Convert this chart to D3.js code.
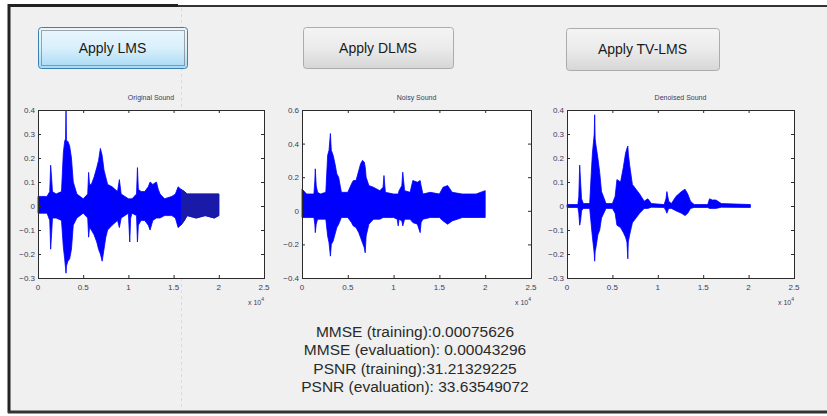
<!DOCTYPE html>
<meta charset="utf-8">
<script src="https://d3js.org/d3.v7.min.js"></script>
<style>
  body { margin: 0; background: #fff; }
  svg { display: block; font-family: "Liberation Sans", Arial, sans-serif; }
</style>
<body>
<div id="gui"></div>
<script>
// ---- data (x in samples, y amplitude envelope) ----
const origX     = [0, 1000, 1300, 1400, 1500, 1600, 2000, 2600, 2800, 2950, 3050, 3100, 3150, 3300, 3500, 3700, 3900, 4300, 5000, 5500, 5600, 5700, 5900, 6200, 6500, 6700, 6900, 7100, 7300, 7500, 7700, 8200, 8800, 9000, 9200, 10000, 10150, 10250, 10400, 10900, 11000, 11100, 11400, 11800, 12200, 12400, 12700, 13100, 13300, 13500, 14000, 14800, 15200, 15500, 15800, 16200, 16500, 17500, 18500, 19500, 20000];
const origUpper = [0.04, 0.04, 0.06, 0.17, 0.12, 0.06, 0.05, 0.06, 0.22, 0.27, 0.28, 0.40, 0.27, 0.27, 0.25, 0.20, 0.10, 0.05, 0.03, 0.05, 0.14, 0.09, 0.09, 0.12, 0.16, 0.19, 0.24, 0.21, 0.15, 0.12, 0.09, 0.08, 0.06, 0.11, 0.05, 0.03, 0.03, 0.03, 0.03, 0.05, 0.16, 0.07, 0.06, 0.06, 0.08, 0.10, 0.09, 0.10, 0.07, 0.05, 0.03, 0.04, 0.05, 0.08, 0.07, 0.06, 0.05, 0.05, 0.05, 0.05, 0.05];
const origLower = [-0.03, -0.03, -0.06, -0.18, -0.12, -0.05, -0.05, -0.06, -0.17, -0.22, -0.26, -0.28, -0.25, -0.23, -0.22, -0.18, -0.08, -0.05, -0.03, -0.05, -0.13, -0.09, -0.10, -0.12, -0.15, -0.18, -0.20, -0.23, -0.18, -0.13, -0.10, -0.08, -0.06, -0.09, -0.05, -0.03, -0.15, -0.05, -0.03, -0.04, -0.15, -0.08, -0.06, -0.06, -0.08, -0.10, -0.06, -0.05, -0.05, -0.05, -0.04, -0.04, -0.05, -0.09, -0.08, -0.06, -0.04, -0.05, -0.04, -0.05, -0.04];

const noisyX     = [0, 500, 1300, 1400, 1450, 1550, 1700, 2000, 2600, 2800, 2950, 3100, 3200, 3400, 3600, 3800, 4000, 4300, 5000, 5400, 5600, 5900, 6200, 6400, 6600, 6800, 6900, 7000, 7300, 7800, 8500, 8850, 8950, 9100, 10000, 10400, 10500, 10600, 10900, 11000, 11200, 11800, 12100, 12600, 12900, 13000, 13200, 14000, 15000, 15400, 15900, 16400, 17500, 19000, 20000];
const noisyUpper = [0.13, 0.10, 0.10, 0.18, 0.25, 0.15, 0.11, 0.10, 0.11, 0.33, 0.36, 0.46, 0.36, 0.33, 0.28, 0.22, 0.20, 0.11, 0.11, 0.16, 0.18, 0.18, 0.24, 0.28, 0.30, 0.29, 0.26, 0.20, 0.15, 0.14, 0.12, 0.14, 0.21, 0.11, 0.10, 0.10, 0.10, 0.12, 0.15, 0.23, 0.12, 0.11, 0.18, 0.17, 0.18, 0.15, 0.10, 0.11, 0.10, 0.14, 0.15, 0.11, 0.10, 0.10, 0.12];
const noisyLower = [-0.04, -0.04, -0.04, -0.08, -0.13, -0.08, -0.05, -0.05, -0.05, -0.15, -0.19, -0.27, -0.20, -0.18, -0.14, -0.10, -0.08, -0.04, -0.04, -0.07, -0.09, -0.10, -0.13, -0.16, -0.19, -0.22, -0.25, -0.15, -0.08, -0.05, -0.05, -0.04, -0.04, -0.04, -0.04, -0.05, -0.09, -0.05, -0.06, -0.09, -0.05, -0.05, -0.07, -0.08, -0.13, -0.07, -0.05, -0.04, -0.04, -0.06, -0.08, -0.06, -0.04, -0.04, -0.04];

const denX     = [0, 1200, 1300, 1400, 1500, 1600, 1800, 2500, 2650, 2800, 2950, 3000, 3050, 3100, 3200, 3400, 3600, 3800, 4300, 5000, 5300, 5500, 5900, 6200, 6450, 6600, 6700, 6750, 6900, 7200, 7600, 8000, 8500, 8900, 9300, 10700, 10900, 11000, 11200, 11500, 12000, 12600, 13000, 13300, 13600, 14000, 15500, 15700, 16000, 16400, 17000, 20200];
const denUpper = [0.006, 0.006, 0.04, 0.17, 0.10, 0.03, 0.01, 0.01, 0.12, 0.22, 0.28, 0.30, 0.38, 0.28, 0.25, 0.20, 0.14, 0.06, 0.01, 0.01, 0.04, 0.11, 0.10, 0.16, 0.22, 0.24, 0.25, 0.22, 0.17, 0.09, 0.07, 0.05, 0.02, 0.03, 0.01, 0.006, 0.03, 0.06, 0.02, 0.01, 0.04, 0.06, 0.07, 0.05, 0.02, 0.006, 0.006, 0.03, 0.025, 0.025, 0.01, 0.006];
const denLower = [-0.006, -0.006, -0.03, -0.08, -0.06, -0.02, -0.01, -0.01, -0.07, -0.13, -0.18, -0.20, -0.23, -0.19, -0.17, -0.12, -0.10, -0.05, -0.01, -0.01, -0.03, -0.08, -0.09, -0.11, -0.13, -0.15, -0.22, -0.15, -0.12, -0.07, -0.05, -0.03, -0.01, -0.01, -0.005, -0.006, -0.02, -0.03, -0.01, -0.01, -0.02, -0.03, -0.04, -0.03, -0.01, -0.006, -0.006, -0.01, -0.01, -0.01, -0.005, -0.006];

const titles = ["Original Sound", "Noisy Sound", "Denoised Sound"];
const xTicks = [0, 0.5, 1, 1.5, 2, 2.5];
const yTicks1 = [-0.3, -0.2, -0.1, 0, 0.1, 0.2, 0.3, 0.4];
const yTicks2 = [-0.4, -0.2, 0, 0.2, 0.4, 0.6];
const buttonLabels = ["Apply LMS", "Apply DLMS", "Apply TV-LMS"];
const resultLines = [
  "MMSE (training):0.00075626",
  "MMSE (evaluation): 0.00043296",
  "PSNR (training):31.21329225",
  "PSNR (evaluation): 33.63549072"
];

const width = 827, height = 416;
const svg = d3.select("#gui").append("svg")
  .attr("width", width).attr("height", height);

const defs = svg.append("defs");
const blueGrad = defs.append("linearGradient").attr("id", "blueBtn")
  .attr("x1", 0).attr("y1", 0).attr("x2", 0).attr("y2", 1);
blueGrad.append("stop").attr("offset", "0%").attr("stop-color", "#eaf6fd");
blueGrad.append("stop").attr("offset", "50%").attr("stop-color", "#d9f0fc");
blueGrad.append("stop").attr("offset", "100%").attr("stop-color", "#a7d9f5");
const grayGrad = defs.append("linearGradient").attr("id", "grayBtn")
  .attr("x1", 0).attr("y1", 0).attr("x2", 0).attr("y2", 1);
grayGrad.append("stop").attr("offset", "0%").attr("stop-color", "#f4f4f4");
grayGrad.append("stop").attr("offset", "50%").attr("stop-color", "#ebebeb");
grayGrad.append("stop").attr("offset", "100%").attr("stop-color", "#d6d6d6");

// window background and frame
svg.append("rect").attr("x", 8).attr("y", 5).attr("width", width - 8).attr("height", 406)
  .attr("fill", "#f0f0f0");
svg.append("line").attr("x1", 8).attr("x2", 178).attr("y1", 5.5).attr("y2", 5.5)
  .attr("stroke", "#222").attr("stroke-width", 3);
svg.append("line").attr("x1", 178).attr("x2", width).attr("y1", 6).attr("y2", 6)
  .attr("stroke", "#333").attr("stroke-width", 2);
svg.append("line").attr("x1", 9).attr("x2", 9).attr("y1", 4).attr("y2", 413)
  .attr("stroke", "#222").attr("stroke-width", 3);
svg.append("line").attr("x1", 8).attr("x2", width).attr("y1", 412).attr("y2", 412)
  .attr("stroke", "#333").attr("stroke-width", 3);

// faint dashed seam of the screenshot
svg.append("line").attr("x1", 181.5).attr("x2", 181.5).attr("y1", 8).attr("y2", 410)
  .attr("stroke", "#dadada").attr("stroke-dasharray", "3,3");

// buttons
const buttons = [
  {x: 38, y: 27, w: 149, h: 41, fill: "url(#blueBtn)", stroke: "#3c7fb1"},
  {x: 303, y: 27, w: 150, h: 41, fill: "url(#grayBtn)", stroke: "#acacac"},
  {x: 566, y: 28, w: 153, h: 42, fill: "url(#grayBtn)", stroke: "#acacac"}
];
buttons.forEach((b, i) => {
  svg.append("rect").attr("x", b.x + 0.5).attr("y", b.y + 0.5)
    .attr("width", b.w).attr("height", b.h).attr("rx", 3)
    .attr("fill", b.fill).attr("stroke", b.stroke);
  if (i === 0) {
    svg.append("rect").attr("x", b.x + 3.5).attr("y", b.y + 3.5)
      .attr("width", b.w - 6).attr("height", b.h - 6)
      .attr("fill", "none").attr("stroke", "#555").attr("stroke-dasharray", "1,1");
  }
  svg.append("text").attr("x", b.x + b.w / 2).attr("y", b.y + b.h / 2 + 5)
    .attr("text-anchor", "middle").attr("font-size", 14).attr("fill", "#1a1a1a")
    .text(buttonLabels[i]);
});

// plots
const plots = [
  {x0: 38, x1: 264, dom: [-0.3, 0.4], ticks: yTicks1, xs: origX, up: origUpper, lo: origLower},
  {x0: 302, x1: 531, dom: [-0.4, 0.6], ticks: yTicks2, xs: noisyX, up: noisyUpper, lo: noisyLower},
  {x0: 567, x1: 794, dom: [-0.3, 0.4], ticks: yTicks1, xs: denX, up: denUpper, lo: denLower}
];
const plotTop = 110, plotBottom = 278;
const axisColor = "#2b2b2b", labelColor = "#3b3b5c";

plots.forEach((p, i) => {
  const x = d3.scaleLinear().domain([0, 2.5]).range([p.x0, p.x1]);
  const y = d3.scaleLinear().domain(p.dom).range([plotBottom, plotTop]);
  const g = svg.append("g");

  g.append("rect").attr("x", p.x0).attr("y", plotTop)
    .attr("width", p.x1 - p.x0).attr("height", plotBottom - plotTop).attr("fill", "#fff");

  const pts = p.xs.map((v, k) => ({x: v / 1e4, u: p.up[k], l: p.lo[k]}));
  const area = d3.area().x(d => x(d.x)).y0(d => y(d.l)).y1(d => y(d.u));
  g.append("path").datum(pts).attr("d", area)
    .attr("fill", "#0000ff").attr("stroke", "#0000ff").attr("stroke-width", 0.8);

  if (i === 0) {
    // screenshot overlay makes the right end of the first plot look darker
    defs.append("clipPath").attr("id", "rightPart").append("rect")
      .attr("x", 181).attr("y", 0).attr("width", 200).attr("height", height);
    g.append("path").datum(pts).attr("d", area).attr("clip-path", "url(#rightPart)")
      .attr("fill", "#1a1aa8").attr("stroke", "#1a1aa8").attr("stroke-width", 0.8);
  }

  g.append("rect").attr("x", p.x0 + 0.5).attr("y", plotTop + 0.5)
    .attr("width", p.x1 - p.x0).attr("height", plotBottom - plotTop)
    .attr("fill", "none").attr("stroke", axisColor);

  // inward ticks on all four sides
  xTicks.forEach(t => {
    g.append("line").attr("x1", x(t) + 0.5).attr("x2", x(t) + 0.5)
      .attr("y1", plotBottom).attr("y2", plotBottom - 3).attr("stroke", axisColor);
    g.append("line").attr("x1", x(t) + 0.5).attr("x2", x(t) + 0.5)
      .attr("y1", plotTop).attr("y2", plotTop + 3).attr("stroke", axisColor);
    g.append("text").attr("x", x(t)).attr("y", plotBottom + 12)
      .attr("text-anchor", "middle").attr("font-size", 8).attr("fill", labelColor)
      .text(t);
  });
  p.ticks.forEach(t => {
    g.append("line").attr("x1", p.x0).attr("x2", p.x0 + 3)
      .attr("y1", y(t) + 0.5).attr("y2", y(t) + 0.5).attr("stroke", axisColor);
    g.append("line").attr("x1", p.x1).attr("x2", p.x1 - 3)
      .attr("y1", y(t) + 0.5).attr("y2", y(t) + 0.5).attr("stroke", axisColor);
    g.append("text").attr("x", p.x0 - 3).attr("y", y(t) + 3)
      .attr("text-anchor", "end").attr("font-size", 8).attr("fill", labelColor)
      .text(d3.format("~g")(+t.toFixed(1)));
  });

  g.append("text").attr("x", (p.x0 + p.x1) / 2).attr("y", plotTop - 10)
    .attr("text-anchor", "middle").attr("font-size", 7).attr("fill", labelColor)
    .text(titles[i]);

  const ex = g.append("text").attr("x", p.x1 - 8).attr("y", 305)
    .attr("text-anchor", "middle").attr("font-size", 7).attr("fill", labelColor);
  ex.append("tspan").text("x 10");
  ex.append("tspan").attr("dy", -4).attr("font-size", 5).text("4");
});

// results text
svg.selectAll("text.result").data(resultLines).join("text")
  .attr("class", "result")
  .attr("x", 415).attr("y", (d, i) => 337 + i * 18.3)
  .attr("text-anchor", "middle").attr("font-size", 15.5).attr("fill", "#2a2a2a")
  .text(d => d);
</script>
</body>
